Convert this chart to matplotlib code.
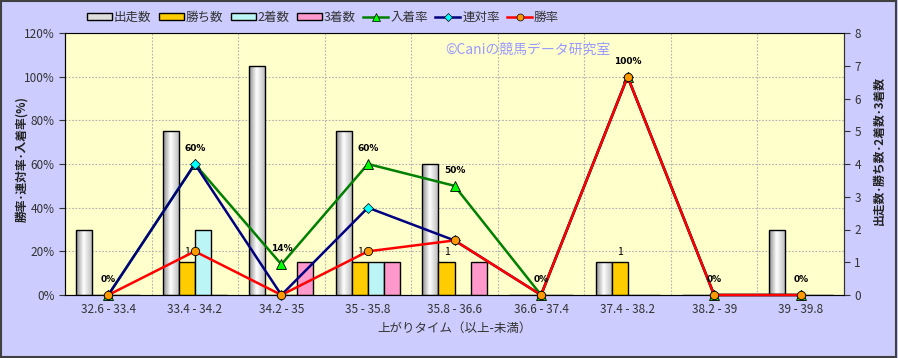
import matplotlib

matplotlib.use("Agg")
import matplotlib.pyplot as plt
import numpy as np
from matplotlib.lines import Line2D
from matplotlib.patches import Patch, Rectangle

plt.rcParams["font.family"] = ["Noto Sans CJK JP", "DejaVu Sans"]

categories = ["32.6 - 33.4", "33.4 - 34.2", "34.2 - 35", "35 - 35.8", "35.8 - 36.6",
              "36.6 - 37.4", "37.4 - 38.2", "38.2 - 39", "39 - 39.8"]
runs = [2, 5, 7, 5, 4, 0, 1, 0, 2]
wins = [0, 1, 0, 1, 1, 0, 1, 0, 0]
seconds = [0, 2, 0, 1, 0, 0, 0, 0, 0]
thirds = [0, 0, 1, 1, 1, 0, 0, 0, 0]
place_rate = [0, 60, 14, 60, 50, 0, 100, 0, 0]
quinella_rate = [0, 60, 0, 40, 25, 0, 100, 0, 0]
win_rate = [0, 20, 0, 20, 25, 0, 100, 0, 0]

BG = "#CCCCFF"
PLOT_BG = "#FFFFCC"
TXT = "#333333"

fig = plt.figure(figsize=(8.98, 3.58), dpi=100)
fig.patch.set_facecolor(BG)
fig.patches.append(Rectangle((0.001, 0.002), 0.997, 0.995, transform=fig.transFigure,
                             fill=False, edgecolor="#404040", linewidth=1.5))

pos = [65 / 898, 1 - 295 / 358, (844 - 65) / 898, (295 - 33) / 358]
ax = fig.add_axes(pos)
ax.set_facecolor(PLOT_BG)
x = np.arange(len(categories))
ax.set_xlim(-0.5, len(categories) - 0.5)
ax.set_ylim(0, 120)
ax.set_yticks(np.arange(0, 121, 20))
ax.set_yticklabels([f"{v}%" for v in range(0, 121, 20)], fontsize=8.5, color=TXT)
ax.set_xticks(x)
ax.set_xticklabels(categories, fontsize=8.5, color=TXT)
ax.set_xticks(np.arange(0.5, len(categories) - 1, 1), minor=True)
ax.tick_params(axis="x", which="both", length=0, pad=6)
ax.tick_params(axis="y", length=4, direction="out", color="#333333")
grid_style = dict(linestyle=(0, (1.5, 1.5)), color="#B0B0B0", linewidth=0.8)
ax.grid(axis="y", **grid_style)
ax.grid(axis="x", which="minor", **grid_style)
ax.set_axisbelow(True)
for side in ["left", "bottom", "right"]:
    ax.spines[side].set_color("#333333")
ax.spines["top"].set_color("#AAAAAA")
ax.set_ylabel("勝率･連対率･入着率(%)", fontsize=8.5, fontweight="bold", color="#222222")
ax.yaxis.set_label_coords(-0.047, 0.52)
ax.set_xlabel("上がりタイム（以上-未満）", fontsize=9, color=TXT, labelpad=4)

# bars on the count axis
axb = ax.twinx()
axb.set_ylim(0, 8)
axb.set_yticks(range(9))
axb.tick_params(axis="y", labelsize=8.5, labelcolor=TXT, length=4, color="#333333")
axb.spines["right"].set_color("#333333")
axb.set_ylabel("出走数･勝ち数･2着数･3着数", fontsize=8.5, fontweight="bold", color="#222222")
axb.yaxis.set_label_coords(1.037, 0.55)

w = 0.185
run_bars = axb.bar(x - 1.5 * w, runs, w, color="#DDDDDD", edgecolor="black", linewidth=1)
axb.bar(x - 0.5 * w, wins, w, color="#FFCC00", edgecolor="black", linewidth=1)
axb.bar(x + 0.5 * w, seconds, w, color="#BBF5F5", edgecolor="black", linewidth=1)
axb.bar(x + 1.5 * w, thirds, w, color="#FF99CC", edgecolor="black", linewidth=1)

profile = np.interp(np.linspace(0, 1, 64), [0, 0.45, 1], [0.55, 1.0, 0.72])
grad = np.dstack([profile, profile, profile]).repeat(2, axis=0)
for bar in run_bars:
    if bar.get_height() <= 0:
        continue
    bx, by = bar.get_x(), bar.get_y()
    im = axb.imshow(grad, extent=[bx, bx + bar.get_width(), by, by + bar.get_height()],
                    aspect="auto", zorder=bar.get_zorder() - 0.1, interpolation="bicubic")
    im.set_clip_path(bar)
    bar.set_facecolor("none")

for xi, v in zip(x, wins):
    if v > 0:
        axb.annotate(str(v), (xi - 0.5 * w, v), xytext=(0, 4), textcoords="offset points",
                     ha="center", va="bottom", fontsize=7.5, color="black")

axb.set_xlim(-0.5, len(categories) - 0.5)
axb.set_ylim(0, 8)

# rate lines on top
axl = ax.twinx()
axl.set_ylim(0, 120)
axl.set_xlim(-0.5, len(categories) - 0.5)
axl.axis("off")
axl.plot(x, place_rate, color="#008000", linewidth=1.8, marker="^", markersize=7,
         markerfacecolor="#00FF00", markeredgecolor="black", markeredgewidth=0.6, clip_on=False)
axl.plot(x, quinella_rate, color="#000080", linewidth=1.8, marker="D", markersize=5,
         markerfacecolor="#00FFFF", markeredgecolor="black", markeredgewidth=0.5, clip_on=False)
axl.plot(x, win_rate, color="#FF0000", linewidth=1.8, marker="o", markersize=6,
         markerfacecolor="#FF9900", markeredgecolor="black", markeredgewidth=0.6, clip_on=False)
for xi, v in zip(x, place_rate):
    axl.annotate(f"{v}%", (xi, v), xytext=(0, 8), textcoords="offset points",
                 ha="center", va="bottom", fontsize=6.5, fontweight="bold", color="black",
                 family="DejaVu Sans")

fig.text(445 / 898, 1 - 50 / 358, "©Caniの競馬データ研究室", fontsize=10, color="#9999FF",
         ha="left", va="center")

handles = [
    Patch(facecolor="#DDDDDD", edgecolor="black", label="出走数"),
    Patch(facecolor="#FFCC00", edgecolor="black", label="勝ち数"),
    Patch(facecolor="#BBF5F5", edgecolor="black", label="2着数"),
    Patch(facecolor="#FF99CC", edgecolor="black", label="3着数"),
    Line2D([], [], color="#008000", linewidth=1.8, marker="^", markersize=6,
           markerfacecolor="#00FF00", markeredgecolor="black", markeredgewidth=0.5, label="入着率"),
    Line2D([], [], color="#000080", linewidth=1.8, marker="D", markersize=4,
           markerfacecolor="#00FFFF", markeredgecolor="black", markeredgewidth=0.5, label="連対率"),
    Line2D([], [], color="#FF0000", linewidth=1.8, marker="o", markersize=5,
           markerfacecolor="#FF9900", markeredgecolor="black", markeredgewidth=0.5, label="勝率"),
]
fig.legend(handles=handles, loc="center", bbox_to_anchor=(323 / 898, 1 - 17 / 358), ncol=7,
           frameon=False, fontsize=9, handlelength=2.0, handleheight=0.5, handletextpad=0.15,
           columnspacing=0.6, labelcolor=TXT)

fig.savefig("out.png", dpi=100, facecolor=fig.get_facecolor())
